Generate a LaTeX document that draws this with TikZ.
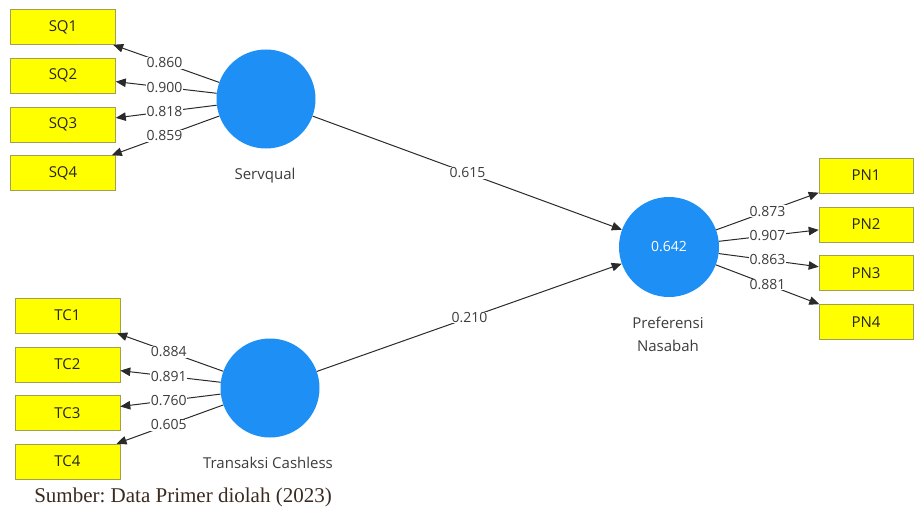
\documentclass[tikz,border=0pt]{standalone}
\usepackage{fontspec}
\setmainfont{Open Sans}
\newfontfamily\notefont{Liberation Serif}
\usetikzlibrary{arrows.meta,calc}
\frenchspacing
\definecolor{latblue}{HTML}{1E8FF5}
\definecolor{indyellow}{HTML}{FFFF00}
\definecolor{indedge}{HTML}{A0A050}
\definecolor{edgeclr}{HTML}{2A2A2A}
\definecolor{txtclr}{HTML}{3C3C3C}
\definecolor{noteclr}{HTML}{3A2A20}
\tikzset{
  indbox/.style={draw=indedge, line width=0.6pt, fill=indyellow, minimum width=105, minimum height=35,
    inner sep=0pt, text=black!85, font=\fontsize{15}{17}\selectfont},
  latent/.style={circle, fill=latblue, minimum size=99, inner sep=0pt, text=white,
    font=\fontsize{14}{16}\selectfont},
  conn/.style={draw=edgeclr, line width=1pt, -{Triangle[length=10pt,width=8.5pt]}},
  weight/.style={fill=white, inner sep=0.8pt, text=txtclr, font=\fontsize{14}{16}\selectfont},
  caption/.style={text=txtclr, font=\fontsize{15}{23}\selectfont, align=center}
}
\begin{document}
\begin{tikzpicture}[x=1pt,y=-1pt]
\useasboundingbox (0,0) rectangle (915,511);

% latent variables
\node[latent] (sv) at (266,99) {};
\node[latent] (tc) at (270,388) {};
\node[latent, minimum size=100] (pn) at (669,247) {0.642};

\node[caption] (svlab) at (265,176) {Servqual};
\node[caption] (tclab) at (268,463) {Transaksi Cashless};
\node[caption] (pnlab) at (668,334) {Preferensi\\Nasabah};

% indicators
\node[indbox] (sq1) at (63,27) {SQ1};
\node[indbox] (sq2) at (63,75.5) {SQ2};
\node[indbox] (sq3) at (63,124.5) {SQ3};
\node[indbox] (sq4) at (63,173) {SQ4};

\node[indbox] (tc1) at (67.5,315.5) {TC1};
\node[indbox] (tc2) at (67.5,364.5) {TC2};
\node[indbox] (tc3) at (67.5,413) {TC3};
\node[indbox] (tc4) at (67.5,461.5) {TC4};

\node[indbox, minimum width=94] (pn1) at (866,175.5) {PN1};
\node[indbox, minimum width=94] (pn2) at (866,224.5) {PN2};
\node[indbox, minimum width=94] (pn3) at (866,273) {PN3};
\node[indbox, minimum width=94] (pn4) at (866,322) {PN4};

% outer loadings
\foreach \i/\w in {1/0.860,2/0.900,3/0.818,4/0.859}{
  \draw[conn] (sv) -- (sq\i);
  \node[weight] at ($(sv)!0.5!(sq\i)$) {\w};
}
\foreach \i/\w in {1/0.884,2/0.891,3/0.760,4/0.605}{
  \draw[conn] (tc) -- (tc\i);
  \node[weight] at ($(tc)!0.5!(tc\i)$) {\w};
}
\foreach \i/\w in {1/0.873,2/0.907,3/0.863,4/0.881}{
  \draw[conn] (pn) -- (pn\i);
  \node[weight] at ($(pn)!0.5!(pn\i)$) {\w};
}

% path coefficients
\draw[conn] (sv) -- (pn);
\node[weight] at ($(sv)!0.5!(pn)$) {0.615};
\draw[conn] (tc) -- (pn);
\node[weight] at ($(tc)!0.5!(pn)$) {0.210};

% source note
\node[text=noteclr, font=\notefont\fontsize{21}{24}\selectfont] (note) at (183,497) {Sumber: Data Primer diolah (2023)};
\end{tikzpicture}
\end{document}
